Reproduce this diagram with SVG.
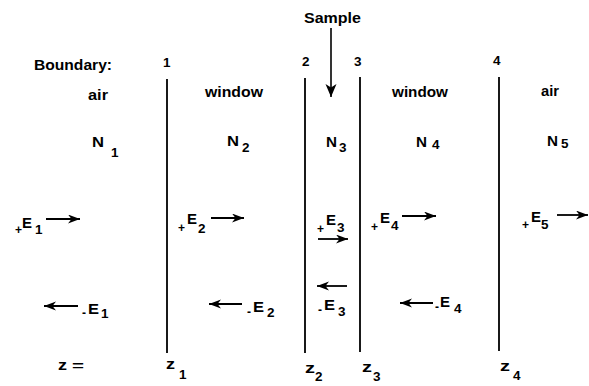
<svg xmlns="http://www.w3.org/2000/svg" width="589" height="386" viewBox="0 0 589 386">
<style>
.t{font-family:"Liberation Sans",Arial,Helvetica,sans-serif;font-weight:bold;fill:#000}
.lg{font-size:14.5px}
.md{font-size:13.5px}
.sm{font-size:12px}
.b{stroke:#000;stroke-width:1.8;fill:none}
.a{stroke:#000;stroke-width:1.8;fill:none;marker-end:url(#ah)}
</style>
<defs>
<marker id="ah" markerUnits="userSpaceOnUse" markerWidth="14" markerHeight="10" refX="12" refY="4.5" orient="auto">
<path d="M0,0 L12,4.5 L0,9 L3.5,4.5 z" fill="#000"/>
</marker>
<marker id="ahs" markerUnits="userSpaceOnUse" markerWidth="14" markerHeight="14" refX="13" refY="5.5" orient="auto">
<path d="M0,0 L13,5.5 L0,11 L3.5,5.5 z" fill="#000"/>
</marker>
</defs>
<rect width="589" height="386" fill="#fff"/>

<g id="boundaries">
<line class="b" x1="167" y1="79" x2="167" y2="353"/>
<line class="b" x1="305" y1="78" x2="305" y2="353" stroke-width="1.5"/>
<line class="b" x1="360" y1="77" x2="360" y2="352"/>
<line class="b" x1="499" y1="77" x2="499" y2="351" stroke-width="1.5"/>
</g>

<g id="header">
<text class="t lg" x="34" y="70" textLength="78" lengthAdjust="spacingAndGlyphs">Boundary:</text>
<text class="t md" x="163" y="67">1</text>
<text class="t md" x="302" y="66">2</text>
<text class="t md" x="354" y="66">3</text>
<text class="t md" x="493" y="65">4</text>
</g>

<g id="sample">
<text class="t lg" x="304" y="23" textLength="57" lengthAdjust="spacingAndGlyphs">Sample</text>
</g>

<g id="medium1">
<text class="t lg" x="88" y="100" textLength="20" lengthAdjust="spacingAndGlyphs">air</text>
<text class="t lg" x="92" y="147" textLength="12" lengthAdjust="spacingAndGlyphs">N</text>
<text class="t md" x="111" y="157">1</text>
</g>
<g id="medium2">
<text class="t lg" x="205" y="97" textLength="58" lengthAdjust="spacingAndGlyphs">window</text>
<text class="t lg" x="227" y="146" textLength="12" lengthAdjust="spacingAndGlyphs">N</text>
<text class="t md" x="242" y="152">2</text>
</g>
<g id="medium3">
<text class="t lg" x="326" y="147" textLength="11" lengthAdjust="spacingAndGlyphs">N</text>
<text class="t md" x="339" y="152">3</text>
</g>
<g id="medium4">
<text class="t lg" x="392" y="97" textLength="56" lengthAdjust="spacingAndGlyphs">window</text>
<text class="t lg" x="416" y="147" textLength="11" lengthAdjust="spacingAndGlyphs">N</text>
<text class="t md" x="432" y="149">4</text>
</g>
<g id="medium5">
<text class="t lg" x="541" y="96" textLength="18" lengthAdjust="spacingAndGlyphs">air</text>
<text class="t lg" x="547" y="146" textLength="11" lengthAdjust="spacingAndGlyphs">N</text>
<text class="t md" x="561" y="148">5</text>
</g>

<g id="fields">
<text class="t sm" x="15" y="234">+</text><text class="t lg" x="22" y="228" textLength="10" lengthAdjust="spacingAndGlyphs">E</text><text class="t md" x="35" y="234">1</text>
<text class="t sm" x="178" y="232">+</text><text class="t lg" x="187" y="224" textLength="10" lengthAdjust="spacingAndGlyphs">E</text><text class="t md" x="198" y="233">2</text>
<text class="t sm" x="317" y="233">+</text><text class="t lg" x="326" y="225" textLength="10" lengthAdjust="spacingAndGlyphs">E</text><text class="t md" x="337" y="232">3</text>
<text class="t sm" x="371" y="231">+</text><text class="t lg" x="380" y="223" textLength="10" lengthAdjust="spacingAndGlyphs">E</text><text class="t md" x="391" y="230">4</text>
<text class="t sm" x="522" y="229">+</text><text class="t lg" x="531" y="222" textLength="10" lengthAdjust="spacingAndGlyphs">E</text><text class="t md" x="541" y="229">5</text>

<text class="t sm" x="82" y="317">-</text><text class="t lg" x="88" y="314" textLength="11" lengthAdjust="spacingAndGlyphs">E</text><text class="t md" x="101" y="318">1</text>
<text class="t sm" x="247" y="316">-</text><text class="t lg" x="253" y="312" textLength="11" lengthAdjust="spacingAndGlyphs">E</text><text class="t md" x="267" y="317">2</text>
<text class="t sm" x="318" y="314">-</text><text class="t lg" x="324" y="310" textLength="11" lengthAdjust="spacingAndGlyphs">E</text><text class="t md" x="338" y="316">3</text>
<text class="t sm" x="435" y="311">-</text><text class="t lg" x="440" y="307" textLength="10" lengthAdjust="spacingAndGlyphs">E</text><text class="t md" x="454" y="313">4</text>
</g>

<g id="positions">
<text class="t lg" x="58" y="370" textLength="9" lengthAdjust="spacingAndGlyphs">z</text><text class="t md" x="72" y="370" textLength="12" lengthAdjust="spacingAndGlyphs">=</text>
<text class="t lg" x="166" y="369" textLength="9" lengthAdjust="spacingAndGlyphs">z</text><text class="t md" x="179" y="379">1</text>
<text class="t lg" x="305" y="373" textLength="10" lengthAdjust="spacingAndGlyphs">z</text><text class="t md" x="315" y="381">2</text>
<text class="t lg" x="362" y="372" textLength="10" lengthAdjust="spacingAndGlyphs">z</text><text class="t md" x="373" y="381">3</text>
<text class="t lg" x="500" y="371" textLength="10" lengthAdjust="spacingAndGlyphs">z</text><text class="t md" x="513" y="380">4</text>
</g>

<g id="connectors">
<line x1="331" y1="28" x2="331" y2="97" stroke="#000" stroke-width="1.6" marker-end="url(#ahs)"/>
<line class="a" x1="46" y1="219" x2="80" y2="219"/>
<line class="a" x1="211" y1="218" x2="244" y2="218"/>
<line class="a" x1="318" y1="239" x2="348" y2="239"/>
<line class="a" x1="402" y1="216" x2="436" y2="216"/>
<line class="a" x1="557" y1="215" x2="588" y2="215"/>
<line class="a" x1="78" y1="306" x2="44" y2="306"/>
<line class="a" x1="242" y1="304" x2="209" y2="304"/>
<line class="a" x1="347" y1="286" x2="317" y2="286"/>
<line class="a" x1="433" y1="303" x2="400" y2="303"/>
</g>
</svg>
